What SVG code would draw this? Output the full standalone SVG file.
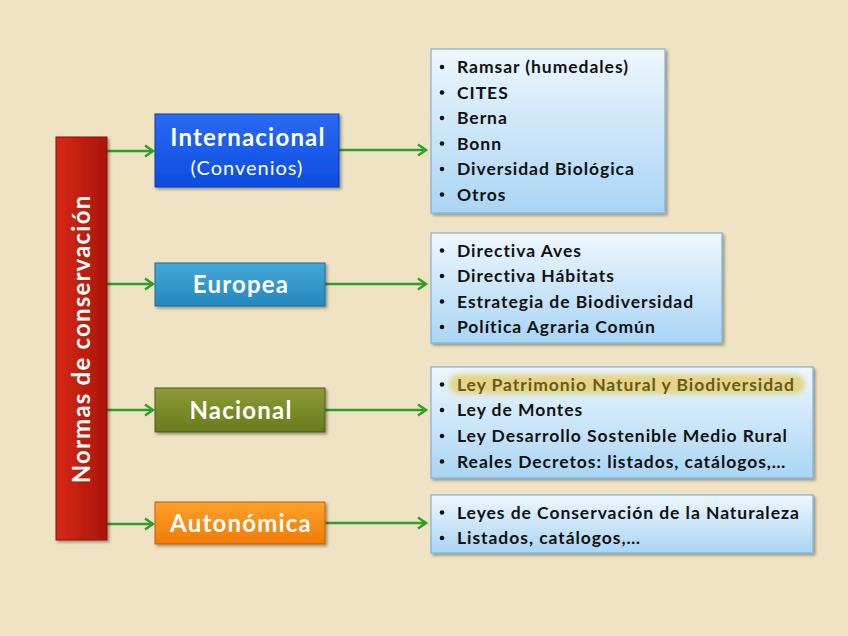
<svg xmlns="http://www.w3.org/2000/svg" width="848" height="636" viewBox="0 0 848 636">
<defs>
<style>
.lbl{font-family:Lato,"Open Sans",sans-serif;font-weight:bold;fill:#fff;text-anchor:middle;letter-spacing:1.2px}
.it{font-family:Lato,"Open Sans",sans-serif;font-weight:bold;font-size:17.5px;fill:#111;letter-spacing:0.95px}
.bu{fill:#111}
.cn{stroke:#2ea02a;stroke-width:2.5;fill:none}
.lb{stroke:#7fb2d4;stroke-width:1.2}
</style>
<linearGradient id="gList" x1="0" y1="0" x2="0" y2="1"><stop offset="0" stop-color="#eef7fd"/><stop offset="1" stop-color="#a9d5f5"/></linearGradient>
<linearGradient id="gRed" x1="0" y1="0" x2="1" y2="0"><stop offset="0" stop-color="#d82814"/><stop offset="1" stop-color="#a8160c"/></linearGradient>
<linearGradient id="gBlue" x1="0" y1="0" x2="0" y2="1"><stop offset="0" stop-color="#2a6af4"/><stop offset="1" stop-color="#0c4ce0"/></linearGradient>
<linearGradient id="gCyan" x1="0" y1="0" x2="0" y2="1"><stop offset="0" stop-color="#44a8d8"/><stop offset="1" stop-color="#2488bc"/></linearGradient>
<linearGradient id="gOlive" x1="0" y1="0" x2="0" y2="1"><stop offset="0" stop-color="#8c9c34"/><stop offset="1" stop-color="#6a7a1e"/></linearGradient>
<linearGradient id="gOrange" x1="0" y1="0" x2="0" y2="1"><stop offset="0" stop-color="#fca22a"/><stop offset="1" stop-color="#f07a06"/></linearGradient>
<filter id="sh" x="-10%" y="-10%" width="130%" height="130%"><feDropShadow dx="2" dy="2" stdDeviation="1.5" flood-color="#000" flood-opacity="0.35"/></filter>
<filter id="glow" x="-5%" y="-40%" width="110%" height="180%"><feGaussianBlur stdDeviation="2.5"/></filter>
<marker id="ah" markerWidth="14" markerHeight="14" refX="10" refY="7" orient="auto" markerUnits="userSpaceOnUse"><polyline points="2,1.5 10,7 2,12.5" fill="none" stroke="#2ea02a" stroke-width="2.5"/></marker>
</defs>
<rect width="848" height="636" fill="#efe3c3"/>

<g id="connectors">
<line class="cn" x1="107" y1="151" x2="153" y2="151" marker-end="url(#ah)"/>
<line class="cn" x1="107" y1="284" x2="153" y2="284" marker-end="url(#ah)"/>
<line class="cn" x1="107" y1="410" x2="153" y2="410" marker-end="url(#ah)"/>
<line class="cn" x1="107" y1="524" x2="153" y2="524" marker-end="url(#ah)"/>
<line class="cn" x1="339" y1="150" x2="426" y2="150" marker-end="url(#ah)"/>
<line class="cn" x1="325" y1="284" x2="426" y2="284" marker-end="url(#ah)"/>
<line class="cn" x1="325" y1="410" x2="426" y2="410" marker-end="url(#ah)"/>
<line class="cn" x1="325" y1="523" x2="426" y2="523" marker-end="url(#ah)"/>
</g>

<g id="normas">
<rect x="56" y="137" width="51" height="403" fill="url(#gRed)" stroke="#8a1008" stroke-width="1" filter="url(#sh)"/>
<text class="lbl" font-size="24" transform="translate(90,339) rotate(-90)">Normas de conservación</text>
</g>

<g id="internacional">
<rect x="155" y="114" width="184" height="73" fill="url(#gBlue)" stroke="#0a3cb0" stroke-width="1" filter="url(#sh)"/>
<text class="lbl" x="248" y="146" font-size="24">Internacional</text>
<text x="247" y="175" font-size="20" fill="#fff" text-anchor="middle" letter-spacing="1" font-family="Lato,'Open Sans',sans-serif">(Convenios)</text>
</g>

<g id="europea">
<rect x="155" y="263" width="170" height="43" fill="url(#gCyan)" stroke="#1a6a98" stroke-width="1" filter="url(#sh)"/>
<text class="lbl" x="241" y="293" font-size="24">Europea</text>
</g>

<g id="nacional">
<rect x="155" y="388" width="170" height="44" fill="url(#gOlive)" stroke="#4e5a14" stroke-width="1" filter="url(#sh)"/>
<text class="lbl" x="241" y="419" font-size="24">Nacional</text>
</g>

<g id="autonomica">
<rect x="155" y="502" width="170" height="42" fill="url(#gOrange)" stroke="#c06000" stroke-width="1" filter="url(#sh)"/>
<text class="lbl" x="241" y="532" font-size="24">Autonómica</text>
</g>

<g id="list-internacional">
<rect class="lb" x="431" y="49" width="234" height="164" fill="url(#gList)" filter="url(#sh)"/>
<circle class="bu" cx="442" cy="67" r="2.3"/><text class="it" x="457" y="73">Ramsar (humedales)</text>
<circle class="bu" cx="442" cy="92.5" r="2.3"/><text class="it" x="457" y="98.5">CITES</text>
<circle class="bu" cx="442" cy="118" r="2.3"/><text class="it" x="457" y="124">Berna</text>
<circle class="bu" cx="442" cy="143.5" r="2.3"/><text class="it" x="457" y="149.5">Bonn</text>
<circle class="bu" cx="442" cy="169" r="2.3"/><text class="it" x="457" y="175">Diversidad Biológica</text>
<circle class="bu" cx="442" cy="194.5" r="2.3"/><text class="it" x="457" y="200.5">Otros</text>
</g>

<g id="list-europea">
<rect class="lb" x="431" y="233" width="291" height="110" fill="url(#gList)" filter="url(#sh)"/>
<circle class="bu" cx="442" cy="250.5" r="2.3"/><text class="it" x="457" y="256.5">Directiva Aves</text>
<circle class="bu" cx="442" cy="276" r="2.3"/><text class="it" x="457" y="282">Directiva Hábitats</text>
<circle class="bu" cx="442" cy="301.5" r="2.3"/><text class="it" x="457" y="307.5">Estrategia de Biodiversidad</text>
<circle class="bu" cx="442" cy="327" r="2.3"/><text class="it" x="457" y="333">Política Agraria Común</text>
</g>

<g id="list-nacional">
<rect class="lb" x="431" y="367" width="382" height="111" fill="url(#gList)" filter="url(#sh)"/>
<rect x="449" y="374" width="356" height="20" rx="10" fill="#e4d27c" opacity="0.9" filter="url(#glow)"/>
<circle class="bu" cx="442" cy="384.5" r="2.3"/><text class="it" x="457" y="390.5" style="fill:#6a5a18">Ley Patrimonio Natural y Biodiversidad</text>
<circle class="bu" cx="442" cy="410" r="2.3"/><text class="it" x="457" y="416">Ley de Montes</text>
<circle class="bu" cx="442" cy="436" r="2.3"/><text class="it" x="457" y="442">Ley Desarrollo Sostenible Medio Rural</text>
<circle class="bu" cx="442" cy="461.5" r="2.3"/><text class="it" x="457" y="467.5">Reales Decretos: listados, catálogos,…</text>
</g>

<g id="list-autonomica">
<rect class="lb" x="431" y="495" width="382" height="58" fill="url(#gList)" filter="url(#sh)"/>
<circle class="bu" cx="442" cy="512.5" r="2.3"/><text class="it" x="457" y="518.5">Leyes de Conservación de la Naturaleza</text>
<circle class="bu" cx="442" cy="538" r="2.3"/><text class="it" x="457" y="544">Listados, catálogos,…</text>
</g>
</svg>
